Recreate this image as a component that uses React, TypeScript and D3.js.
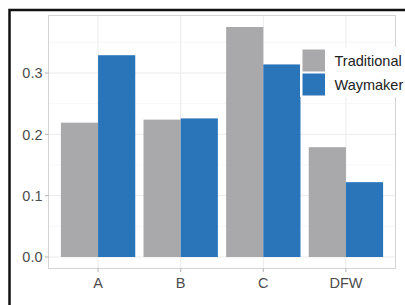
import React from "react";
import * as d3 from "d3";

const categories = ["A", "B", "C", "DFW"];
const seriesNames = ["Traditional", "Waymaker"];
const traditional = [0.219, 0.224, 0.375, 0.179];
const waymaker = [0.329, 0.226, 0.314, 0.122];
const yTicks = [0, 0.1, 0.2, 0.3];
const yMinor = [0.05, 0.15, 0.25, 0.35];
const colors = ["#A9A9AC", "#2A74BA"];

const W = 405;
const H = 305;
const panel = { left: 48.5, right: 395.5, top: 15.5, bottom: 268.5 };

export default function App() {
  const series = [traditional, waymaker];
  const maxV = d3.max([...traditional, ...waymaker]) as number;
  const pad = maxV * 0.05;
  const y = d3.scaleLinear().domain([-pad, maxV + pad]).range([panel.bottom, panel.top]);
  const step = (panel.right - panel.left) / (categories.length - 1 + 1.2);
  const x = d3
    .scalePoint<string>()
    .domain(categories)
    .range([panel.left + 0.6 * step, panel.right - 0.6 * step]);
  const groupW = step * 0.9;
  const inner = d3.scaleBand<string>().domain(seriesNames).range([-groupW / 2, groupW / 2]).padding(0);
  const font = "'Liberation Sans', Arial, sans-serif";

  return (
    <svg width={W} height={H} style={{ position: "absolute", left: 0, top: 0 }} fontFamily={font}>
      <rect x={0} y={0} width={W} height={H} fill="white" />
      <path d={`M9.5,${H + 5} L9.5,10 L${W + 5},10`} fill="none" stroke="#111" strokeWidth={2.5} />
      {yMinor.map((t) => (
        <line key={"m" + t} x1={panel.left} x2={panel.right} y1={y(t)} y2={y(t)} stroke="#F2F2F2" strokeWidth={0.6} />
      ))}
      {yTicks.map((t) => (
        <line key={"g" + t} x1={panel.left} x2={panel.right} y1={y(t)} y2={y(t)} stroke="#EBEBEB" strokeWidth={1} />
      ))}
      {categories.map((c) => (
        <line key={"v" + c} x1={x(c)} x2={x(c)} y1={panel.top} y2={panel.bottom} stroke="#EBEBEB" strokeWidth={1} />
      ))}
      {categories.map((c, i) =>
        series.map((s, j) => (
          <rect
            key={c + j}
            x={(x(c) as number) + (inner(seriesNames[j]) as number)}
            y={y(s[i])}
            width={inner.bandwidth()}
            height={y(0) - y(s[i])}
            fill={colors[j]}
          />
        ))
      )}
      <rect x={panel.left} y={panel.top} width={panel.right - panel.left} height={panel.bottom - panel.top} fill="none" stroke="#D4D4D4" strokeWidth={1} />
      {yTicks.map((t) => (
        <g key={"yt" + t}>
          <line x1={panel.left - 3.5} x2={panel.left} y1={y(t)} y2={y(t)} stroke="#B3B3B3" />
          <text x={panel.left - 6} y={y(t)} dy="0.36em" textAnchor="end" fontSize={14.5} fill="#4D4D4D">
            {d3.format(".1f")(t)}
          </text>
        </g>
      ))}
      {categories.map((c) => (
        <g key={"xt" + c}>
          <line x1={x(c)} x2={x(c)} y1={panel.bottom} y2={panel.bottom + 3.5} stroke="#B3B3B3" />
          <text x={x(c)} y={287.5} textAnchor="middle" fontSize={14.5} fill="#4D4D4D">
            {c}
          </text>
        </g>
      ))}
      <rect x={300} y={47} width={104} height={50} fill="white" />
      {seriesNames.map((n, j) => (
        <g key={n}>
          <rect x={302.5} y={49.5 + j * 24} width={22.5} height={22} fill={colors[j]} />
          <text x={334.5} y={60.5 + j * 24} dy="0.36em" fontSize={14.5} fill="#222">
            {n}
          </text>
        </g>
      ))}
    </svg>
  );
}
